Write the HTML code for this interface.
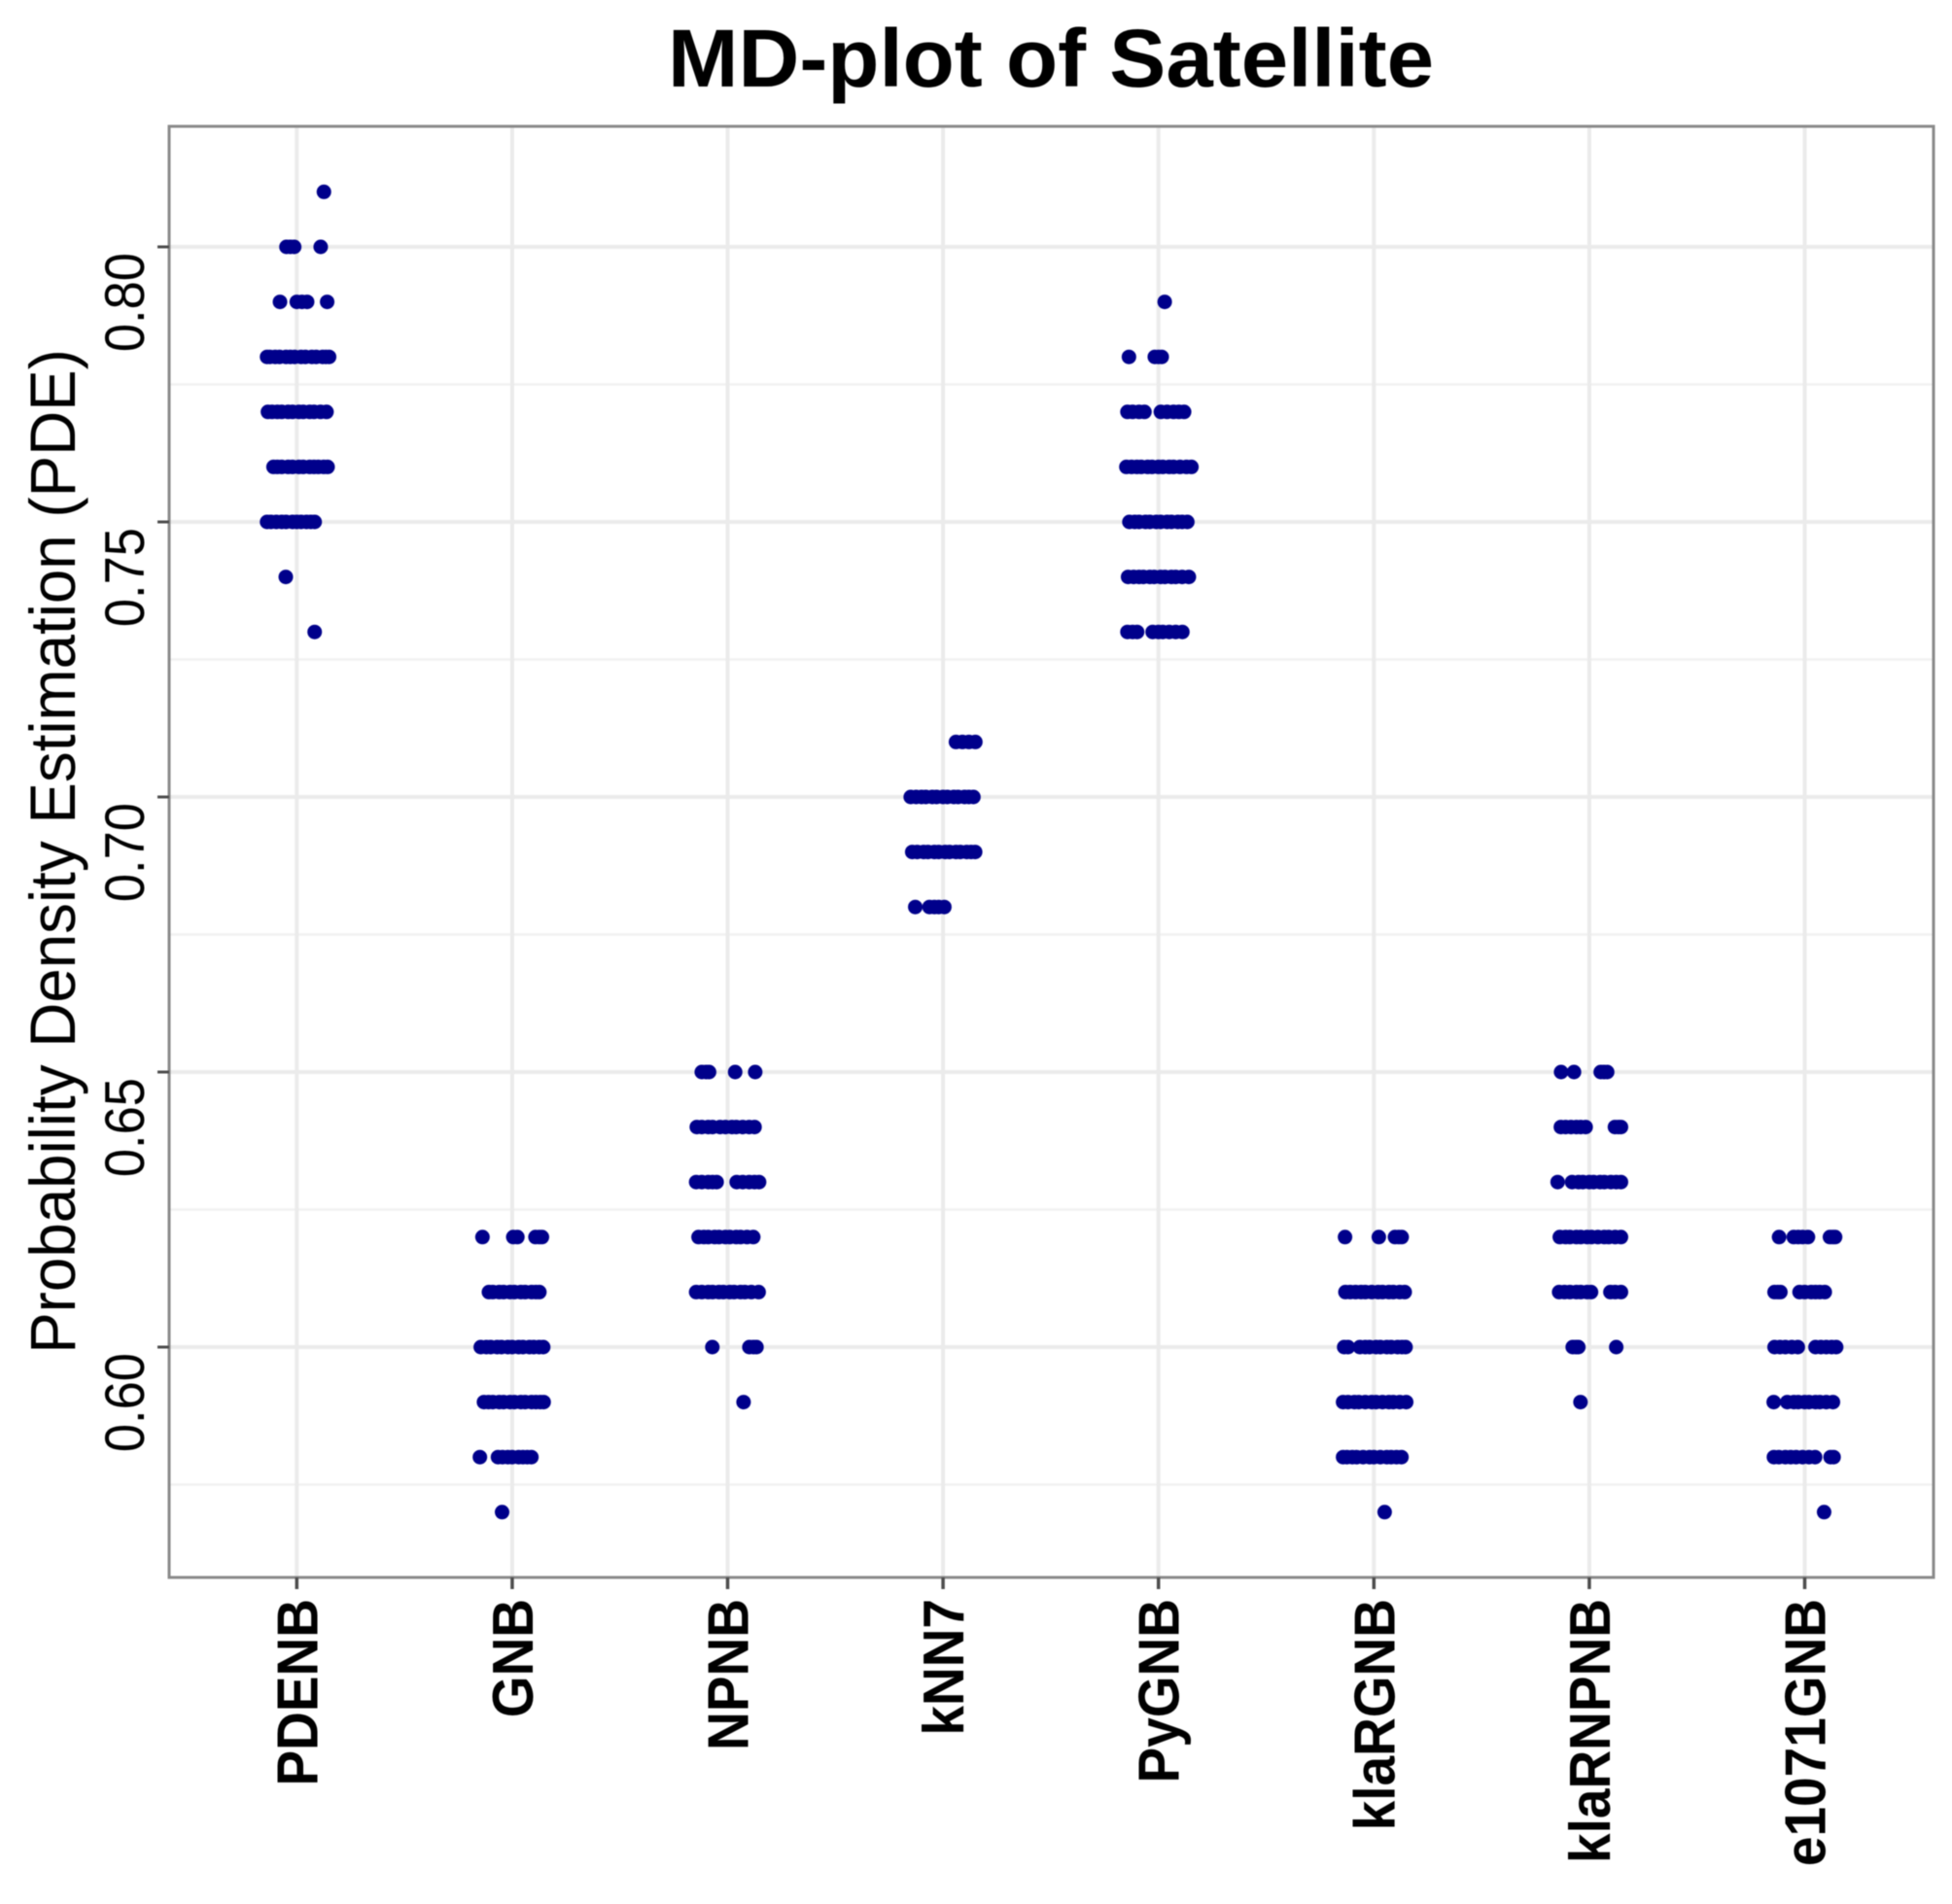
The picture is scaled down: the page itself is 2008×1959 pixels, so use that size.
<!DOCTYPE html>
<html>
<head>
<meta charset="utf-8">
<title>MD-plot of Satellite</title>
<style>
html,body{margin:0;padding:0;background:#fff;}
svg{display:block;filter:blur(0.6px);}
text{font-family:"Liberation Sans",sans-serif;fill:#000;}
</style>
</head>
<body>
<svg id="chart" width="2008" height="1959" viewBox="0 0 2008 1959" xmlns="http://www.w3.org/2000/svg">
<rect x="0" y="0" width="2008" height="1959" fill="#ffffff"/>
<text transform="translate(1081,89) scale(1.03,1)" text-anchor="middle" font-size="84.5" font-weight="bold">MD-plot of Satellite</text>
<text transform="translate(77,876) rotate(-90) scale(1,1.03)" text-anchor="middle" font-size="63.7">Probability Density Estimation (PDE)</text>
<g id="grid"></g>
<g id="points"></g>
<rect x="174" y="130" width="1815" height="1493" fill="none" stroke="#8a8a8a" stroke-width="3"/>
<g id="axes"></g>
</svg>
<script>
const categories = ["PDENB","GNB","NPNB","kNN7","PyGNB","klaRGNB","klaRNPNB","e1071GNB"];
const yMajorTicks = [0.60,0.65,0.70,0.75,0.80];
const yTickLabels = ["0.60","0.65","0.70","0.75","0.80"];
const yMinorTicks = [0.575,0.625,0.675,0.725,0.775];

const pdenbLevels = [0.81,0.80,0.79,0.78,0.77,0.76,0.75,0.74,0.73];
const pdenbJitter = [
 [0.126],
 [-0.048,-0.03,-0.012,0.111],
 [-0.078,0,0.024,0.048,0.141],
 [-0.138,-0.125,-0.1,-0.08,-0.05,-0.03,-0.01,0.02,0.04,0.07,0.09,0.12,0.135,0.15],
 [-0.134,-0.115,-0.09,-0.07,-0.04,-0.02,0.01,0.03,0.06,0.08,0.11,0.138],
 [-0.108,-0.09,-0.07,-0.04,-0.02,0.01,0.03,0.06,0.08,0.1,0.125,0.143],
 [-0.138,-0.12,-0.095,-0.07,-0.05,-0.02,0,0.02,0.045,0.065,0.083],
 [-0.051],
 [0.083]
];

const gnbLevels = [0.62,0.61,0.60,0.59,0.58,0.57];
const gnbJitter = [
 [-0.138,0.005,0.024,0.108,0.125,0.138],
 [-0.108,-0.09,-0.06,-0.04,-0.01,0.01,0.04,0.06,0.09,0.11,0.126],
 [-0.146,-0.12,-0.1,-0.07,-0.05,-0.02,0,0.03,0.05,0.08,0.1,0.125,0.144],
 [-0.131,-0.11,-0.09,-0.06,-0.04,-0.01,0.01,0.04,0.06,0.09,0.11,0.13,0.146],
 [-0.15,-0.066,-0.045,-0.02,0,0.03,0.05,0.07,0.089],
 [-0.047]
];

const npnbLevels = [0.65,0.64,0.63,0.62,0.61,0.60,0.59];
const npnbJitter = [
 [-0.12,-0.1,-0.086,0.035,0.128],
 [-0.143,-0.12,-0.09,-0.07,-0.035,-0.01,0.02,0.04,0.07,0.1,0.125],
 [-0.146,-0.12,-0.09,-0.07,-0.051,0.042,0.07,0.1,0.125,0.146],
 [-0.135,-0.11,-0.09,-0.06,-0.04,-0.01,0.01,0.04,0.06,0.09,0.119],
 [-0.146,-0.12,-0.09,-0.07,-0.04,-0.02,0.01,0.03,0.06,0.08,0.11,0.144],
 [-0.071,0.101,0.12,0.134],
 [0.074]
];

const knn7Levels = [0.71,0.70,0.69,0.68];
const knn7Jitter = [
 [0.06,0.09,0.12,0.15],
 [-0.15,-0.125,-0.1,-0.08,-0.05,-0.03,0,0.02,0.05,0.07,0.1,0.12,0.141],
 [-0.143,-0.12,-0.09,-0.07,-0.04,-0.02,0.01,0.03,0.06,0.08,0.11,0.13,0.149],
 [-0.129,-0.063,-0.04,-0.02,0.006]
];

const pygnbLevels = [0.79,0.78,0.77,0.76,0.75,0.74,0.73];
const pygnbJitter = [
 [0.029],
 [-0.137,-0.017,0,0.015],
 [-0.144,-0.12,-0.09,-0.065,0.011,0.04,0.07,0.095,0.119],
 [-0.149,-0.125,-0.1,-0.08,-0.05,-0.03,0,0.02,0.05,0.07,0.1,0.13,0.153],
 [-0.135,-0.11,-0.09,-0.06,-0.04,-0.01,0.01,0.04,0.06,0.09,0.11,0.134],
 [-0.141,-0.115,-0.09,-0.07,-0.04,-0.02,0.01,0.03,0.06,0.08,0.11,0.141],
 [-0.144,-0.12,-0.099,-0.027,0,0.02,0.05,0.08,0.111]
];

const klargnbLevels = [0.62,0.61,0.60,0.59,0.58,0.57];
const klargnbJitter = [
 [-0.134,0.023,0.098,0.115,0.129],
 [-0.132,-0.11,-0.085,-0.06,-0.04,-0.01,0.02,0.04,0.07,0.09,0.12,0.143],
 [-0.138,-0.12,-0.065,-0.04,-0.02,0.01,0.03,0.06,0.08,0.11,0.13,0.147],
 [-0.143,-0.12,-0.09,-0.07,-0.04,-0.01,0.01,0.04,0.07,0.09,0.12,0.15],
 [-0.143,-0.125,-0.1,-0.08,-0.05,-0.02,0,0.03,0.06,0.08,0.105,0.128],
 [0.05]
];

const klarnpnbLevels = [0.65,0.64,0.63,0.62,0.61,0.60,0.59];
const klarnpnbJitter = [
 [-0.131,-0.071,0.053,0.068,0.083],
 [-0.132,-0.11,-0.085,-0.06,-0.04,-0.017,0.119,0.135,0.147],
 [-0.147,-0.08,-0.05,-0.03,0,0.02,0.05,0.07,0.1,0.125,0.147],
 [-0.137,-0.11,-0.09,-0.06,-0.04,-0.01,0.01,0.04,0.07,0.09,0.12,0.147],
 [-0.14,-0.115,-0.09,-0.06,-0.04,-0.01,0.008,0.098,0.12,0.147],
 [-0.077,-0.062,-0.051,0.125],
 [-0.041]
];

const e1071gnbLevels = [0.62,0.61,0.60,0.59,0.58,0.57];
const e1071gnbJitter = [
 [-0.119,-0.051,-0.03,-0.01,0.015,0.117,0.13,0.141],
 [-0.14,-0.125,-0.113,-0.024,0,0.03,0.05,0.07,0.093],
 [-0.14,-0.115,-0.09,-0.06,-0.032,0.05,0.075,0.1,0.125,0.146],
 [-0.144,-0.081,-0.05,-0.03,0,0.02,0.05,0.07,0.1,0.131],
 [-0.143,-0.12,-0.09,-0.065,-0.04,-0.01,0.02,0.048,0.134,0.12],
 [0.09]
];

const seriesLevels = [pdenbLevels,gnbLevels,npnbLevels,knn7Levels,pygnbLevels,klargnbLevels,klarnpnbLevels,e1071gnbLevels];
const seriesJitter = [pdenbJitter,gnbJitter,npnbJitter,knn7Jitter,pygnbJitter,klargnbJitter,klarnpnbJitter,e1071gnbJitter];

const SVGNS = "http://www.w3.org/2000/svg";
const panelLeft = 174, panelRight = 1989, panelTop = 130, panelBottom = 1623;
const firstCategoryX = 305.3, categoryStep = 221.6;
const yAt080 = 254, pxPerUnit = 5660;

function xScale(position){ return firstCategoryX + position * categoryStep; }
function yScale(value){ return yAt080 + (0.80 - value) * pxPerUnit; }

function line(parent, x1, y1, x2, y2, color, width){
  const el = document.createElementNS(SVGNS, "line");
  el.setAttribute("x1", x1);
  el.setAttribute("y1", y1);
  el.setAttribute("x2", x2);
  el.setAttribute("y2", y2);
  el.setAttribute("stroke", color);
  el.setAttribute("stroke-width", width);
  parent.appendChild(el);
  return el;
}

const grid = document.getElementById("grid");
const axes = document.getElementById("axes");
const pointsLayer = document.getElementById("points");

yMinorTicks.forEach(function(v){
  const el = line(grid, panelLeft, yScale(v), panelRight, yScale(v), "#f1f1f1", 2.5);
  
  
});

yMajorTicks.forEach(function(v, i){
  const y = yScale(v);
  const g = line(grid, panelLeft, y, panelRight, y, "#ebebeb", 4);
  
  
  const t = line(axes, 162, y, 174, y, "#4d4d4d", 3);
  
  
  const label = document.createElementNS(SVGNS, "text");
  
  
  label.setAttribute("transform", "translate(148," + (y + 6) + ") rotate(-90) scale(1,1.1)");
  label.setAttribute("text-anchor", "end");
  label.setAttribute("font-size", "52.5");
  label.textContent = yTickLabels[i];
  axes.appendChild(label);
});

categories.forEach(function(name, i){
  const x = xScale(i);
  const g = line(grid, x, panelTop, x, panelBottom, "#ebebeb", 4);
  
  
  const t = line(axes, x, panelBottom, x, 1635, "#4d4d4d", 3.5);
  
  
  const label = document.createElementNS(SVGNS, "text");
  
  
  label.setAttribute("transform", "translate(" + (x + 21) + ",1645) rotate(-90) scale(1,1.08)");
  label.setAttribute("text-anchor", "end");
  label.setAttribute("font-size", "55");
  label.setAttribute("font-weight", "bold");
  label.textContent = name;
  axes.appendChild(label);
});

seriesLevels.forEach(function(levels, i){
  levels.forEach(function(level, k){
    seriesJitter[i][k].forEach(function(j){
      const dot = document.createElementNS(SVGNS, "circle");
      
      
      dot.setAttribute("cx", xScale(i + j));
      dot.setAttribute("cy", yScale(level));
      dot.setAttribute("r", 7.5);
      dot.setAttribute("fill", "#00008b");
      pointsLayer.appendChild(dot);
    });
  });
});
</script>
</body>
</html>
